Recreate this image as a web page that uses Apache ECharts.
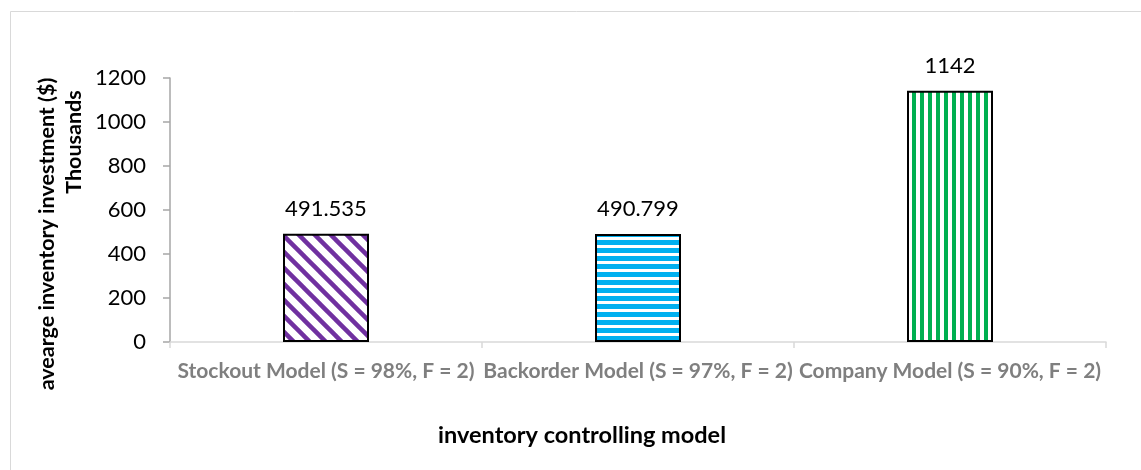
<!DOCTYPE html>
<html>
<head>
<meta charset="utf-8">
<script src="https://cdn.jsdelivr.net/npm/echarts@6/dist/echarts.min.js"></script>
<style>
  html, body { margin: 0; padding: 0; background: #ffffff; }
  #chart { width: 1141px; height: 470px; }
</style>
</head>
<body>
<div id="chart"></div>
<script>
// Chart data
const categories = [
  'Stockout Model (S = 98%, F = 2)',
  'Backorder Model (S = 97%, F = 2)',
  'Company Model (S = 90%, F = 2)'
];
const investment = [491.535, 490.799, 1142];
const valueLabels = ['491.535', '490.799', '1142'];
const yAxisTitle = 'avearge inventory investment ($)';
const unitsLabel = 'Thousands';
const xAxisTitle = 'inventory controlling model';

const FONT = 'Lato, "Open Sans", sans-serif';

// Hatched fills drawn on small canvas tiles
function makeTile(kind, color) {
  const c = document.createElement('canvas');
  const ctx = c.getContext('2d');
  if (kind === 'diag') {
    c.width = 16; c.height = 16;
    ctx.fillStyle = '#fff'; ctx.fillRect(0, 0, 16, 16);
    ctx.strokeStyle = color; ctx.lineWidth = 4.5;
    for (const x0 of [-16, 0, 16]) {
      ctx.beginPath(); ctx.moveTo(x0 - 2, -2); ctx.lineTo(x0 + 18, 18); ctx.stroke();
    }
  } else if (kind === 'horiz') {
    c.width = 8; c.height = 8;
    ctx.fillStyle = '#fff'; ctx.fillRect(0, 0, 8, 8);
    ctx.fillStyle = color; ctx.fillRect(0, 0, 8, 5);
  } else {
    c.width = 8; c.height = 8;
    ctx.fillStyle = '#fff'; ctx.fillRect(0, 0, 8, 8);
    ctx.fillStyle = color; ctx.fillRect(0, 0, 4, 8);
  }
  return { image: c, repeat: 'repeat' };
}

const fills = [
  makeTile('diag', '#7030a0'),
  makeTile('horiz', '#00b0f0'),
  makeTile('vert', '#00b050')
];

const chart = echarts.init(document.getElementById('chart'), null, { renderer: 'canvas' });

chart.setOption({
  backgroundColor: '#ffffff',
  animation: false,
  grid: { left: 170, right: 35, top: 78, bottom: 128, containLabel: false },
  xAxis: {
    type: 'category',
    data: categories,
    axisLine: { lineStyle: { color: '#d9d9d9', width: 1.5 } },
    axisTick: { show: true, length: 6, lineStyle: { color: '#d9d9d9', width: 1.5 } },
    axisLabel: {
      interval: 0,
      margin: 19,
      color: '#7f7f7f',
      fontFamily: FONT,
      fontWeight: 'bold',
      fontSize: 21
    },
    splitLine: { show: false }
  },
  yAxis: {
    type: 'value',
    min: 0,
    max: 1200,
    interval: 200,
    axisLine: { show: true, lineStyle: { color: '#a6a6a6', width: 1.5 } },
    axisTick: { show: true, length: 7, lineStyle: { color: '#a6a6a6', width: 1.5 } },
    axisLabel: {
      margin: 24,
      color: '#000000',
      fontFamily: FONT,
      fontSize: 22,
      formatter: v => String(v)
    },
    splitLine: { show: false }
  },
  graphic: [
    {
      type: 'rect', z: -10, silent: true,
      shape: { x: 10.5, y: 11.5, width: 1300, height: 600 },
      style: { fill: 'none', stroke: '#d9d9d9', lineWidth: 1 }
    },
    {
      type: 'text', x: 47, y: 234, rotation: Math.PI / 2,
      style: { text: yAxisTitle, font: 'bold 21.5px ' + FONT, fill: '#000', align: 'center', verticalAlign: 'middle' }
    },
    {
      type: 'text', x: 74, y: 142, rotation: Math.PI / 2,
      style: { text: unitsLabel, font: 'bold 21.5px ' + FONT, fill: '#000', align: 'center', verticalAlign: 'middle' }
    },
    {
      type: 'text', x: 582, y: 435,
      style: { text: xAxisTitle, font: 'bold 23.5px ' + FONT, fill: '#000', align: 'center', verticalAlign: 'middle' }
    }
  ],
  series: [{
    type: 'bar',
    barWidth: 86,
    data: investment.map((v, i) => ({
      value: v,
      itemStyle: { color: fills[i], borderColor: '#000', borderWidth: 2 },
      label: { formatter: valueLabels[i] }
    })),
    label: {
      show: true,
      position: 'top',
      distance: 14,
      color: '#000',
      fontFamily: FONT,
      fontSize: 22
    }
  }]
});
</script>
</body>
</html>
